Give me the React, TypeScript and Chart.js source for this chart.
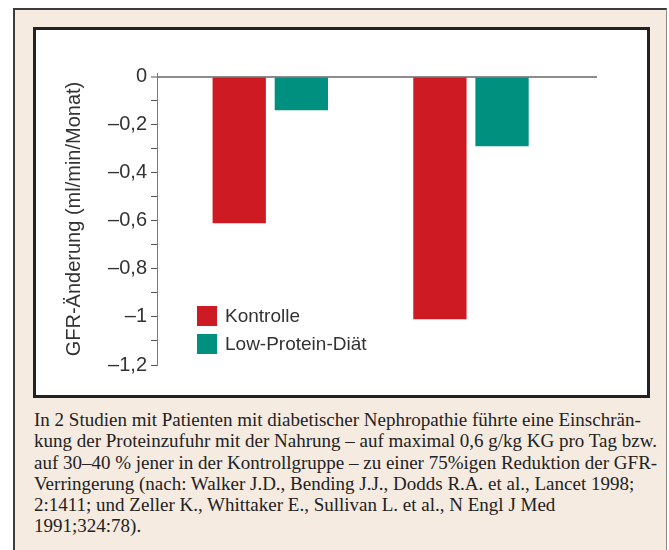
import React, { useEffect, useRef } from 'react';
import { Chart, registerables } from 'chart.js';

Chart.register(...registerables);

// ---- data ----
const studyPositions = [1, 2];
const seriesNames = ['Kontrolle', 'Low-Protein-Diät'];
const kontrolle = [-0.61, -1.01];
const lowProtein = [-0.14, -0.29];
const seriesColors = ['#CE1A22', '#009080'];
const majorTickValues = [0, -0.2, -0.4, -0.6, -0.8, -1, -1.2];
const majorTickLabels = ['0', '–0,2', '–0,4', '–0,6', '–0,8', '–1', '–1,2'];
const minorTickValues = [-0.1, -0.3, -0.5, -0.7, -0.9, -1.1];
const yTitle = 'GFR-Änderung (ml/min/Monat)';
const captionLines = [
  'In 2 Studien mit Patienten mit diabetischer Nephropathie führte eine Einschrän-',
  'kung der Proteinzufuhr mit der Nahrung – auf maximal 0,6 g/kg KG pro Tag bzw.',
  'auf 30–40 % jener in der Kontrollgruppe – zu einer 75%igen Reduktion der GFR-',
  'Verringerung (nach: Walker J.D., Bending J.J., Dodds R.A. et al., Lancet 1998;',
  '2:1411; und Zeller K., Whittaker E., Sullivan L. et al., N Engl J Med',
  '1991;324:78).',
];

const SANS = '"Liberation Sans", Arial, Helvetica, sans-serif';
const TEXT = '#333333';

function labelFor(v: number): string {
  const i = majorTickValues.findIndex((t) => Math.abs(t - v) < 1e-6);
  return i >= 0 ? majorTickLabels[i] : '';
}

const boxLegend = {
  id: 'boxLegend',
  afterDraw(chart: any) {
    const { ctx, chartArea } = chart;
    const x0 = chartArea.left + 40;
    const y0 = chartArea.top + 233;
    ctx.save();
    chart.data.datasets.forEach((ds: any, i: number) => {
      const y = y0 + i * 28;
      ctx.fillStyle = ds.backgroundColor;
      ctx.fillRect(x0, y, 20, 20);
      ctx.fillStyle = TEXT;
      ctx.font = '19px ' + SANS;
      ctx.textBaseline = 'middle';
      ctx.textAlign = 'left';
      ctx.fillText(ds.label, x0 + 28, y + 11);
    });
    ctx.restore();
  },
};

function GfrChart() {
  const ref = useRef<HTMLCanvasElement | null>(null);
  useEffect(() => {
    if (!ref.current) return;
    const allTicks = [...majorTickValues, ...minorTickValues].sort((a, b) => b - a);
    const chart = new Chart(ref.current, {
      type: 'bar',
      data: {
        datasets: [
          {
            label: seriesNames[0],
            data: studyPositions.map((x, i) => ({ x, y: kontrolle[i] })),
            backgroundColor: seriesColors[0],
            borderWidth: 0,
            categoryPercentage: 0.619,
            barPercentage: 0.858,
          },
          {
            label: seriesNames[1],
            data: studyPositions.map((x, i) => ({ x, y: lowProtein[i] })),
            backgroundColor: seriesColors[1],
            borderWidth: 0,
            categoryPercentage: 0.619,
            barPercentage: 0.858,
          },
        ],
      },
      options: {
        animation: false,
        responsive: false,
        layout: { padding: { left: 0, right: 50, top: 43, bottom: 30 } },
        plugins: { legend: { display: false }, tooltip: { enabled: false } },
        scales: {
          x: {
            type: 'linear',
            display: false,
            offset: false,
            min: 0.4355,
            max: 2.628,
            afterBuildTicks: (axis: any) => {
              axis.ticks = studyPositions.map((v) => ({ value: v }));
            },
            grid: { display: false },
          },
          y: {
            type: 'linear',
            min: -1.2,
            max: 0.015,
            afterBuildTicks: (axis: any) => {
              axis.ticks = allTicks.map((v) => ({ value: v }));
            },
            afterFit: (axis: any) => {
              axis.width = 121;
            },
            border: { display: true, color: '#7a7a7a', width: 1 },
            grid: {
              drawOnChartArea: true,
              color: (c: any) => (c.tick && Math.abs(c.tick.value) < 1e-9 ? '#8c8c8c' : 'rgba(0,0,0,0)'),
              lineWidth: (c: any) => (c.tick && Math.abs(c.tick.value) < 1e-9 ? 2 : 1),
              drawTicks: true,
              tickLength: 6,
              tickColor: '#555555',
              tickWidth: 1,
            },
            ticks: {
              autoSkip: false,
              padding: 4,
              color: TEXT,
              font: { family: SANS, size: 20 },
              callback: (v: any) => labelFor(Number(v)),
            },
            title: {
              display: true,
              text: yTitle,
              color: TEXT,
              font: { family: SANS, size: 20 },
              padding: { top: 26, bottom: 0 },
            },
          },
        },
      },
      plugins: [boxLegend],
    } as any);
    return () => chart.destroy();
  }, []);
  return <canvas ref={ref} width={611} height={365} style={{ display: 'block', width: 611, height: 365 }} />;
}

export default function App() {
  return (
    <div style={{ position: 'absolute', left: 0, top: 0, width: 669, height: 550, background: '#ffffff', overflow: 'hidden' }}>
      <div
        style={{
          position: 'absolute',
          left: 13,
          top: 8,
          width: 654,
          height: 600,
          boxSizing: 'border-box',
          background: '#F5EBE1',
          borderLeft: '2px solid #3c3c3c',
          borderTop: '2px solid #3c3c3c',
          borderRight: '1px solid #8a8a8a',
        }}
      />
      <div
        style={{
          position: 'absolute',
          left: 33,
          top: 27,
          width: 617,
          height: 371,
          boxSizing: 'border-box',
          background: '#ffffff',
          border: '3px solid #222222',
        }}
      >
        <GfrChart />
      </div>
      <div
        style={{
          position: 'absolute',
          left: 34,
          top: 409,
          fontFamily: '"Liberation Serif", "Times New Roman", serif',
          fontSize: 19,
          lineHeight: '21.3px',
          color: '#222222',
          whiteSpace: 'nowrap',
        }}
      >
        {captionLines.map((l, i) => (
          <div key={i}>{l}</div>
        ))}
      </div>
    </div>
  );
}
